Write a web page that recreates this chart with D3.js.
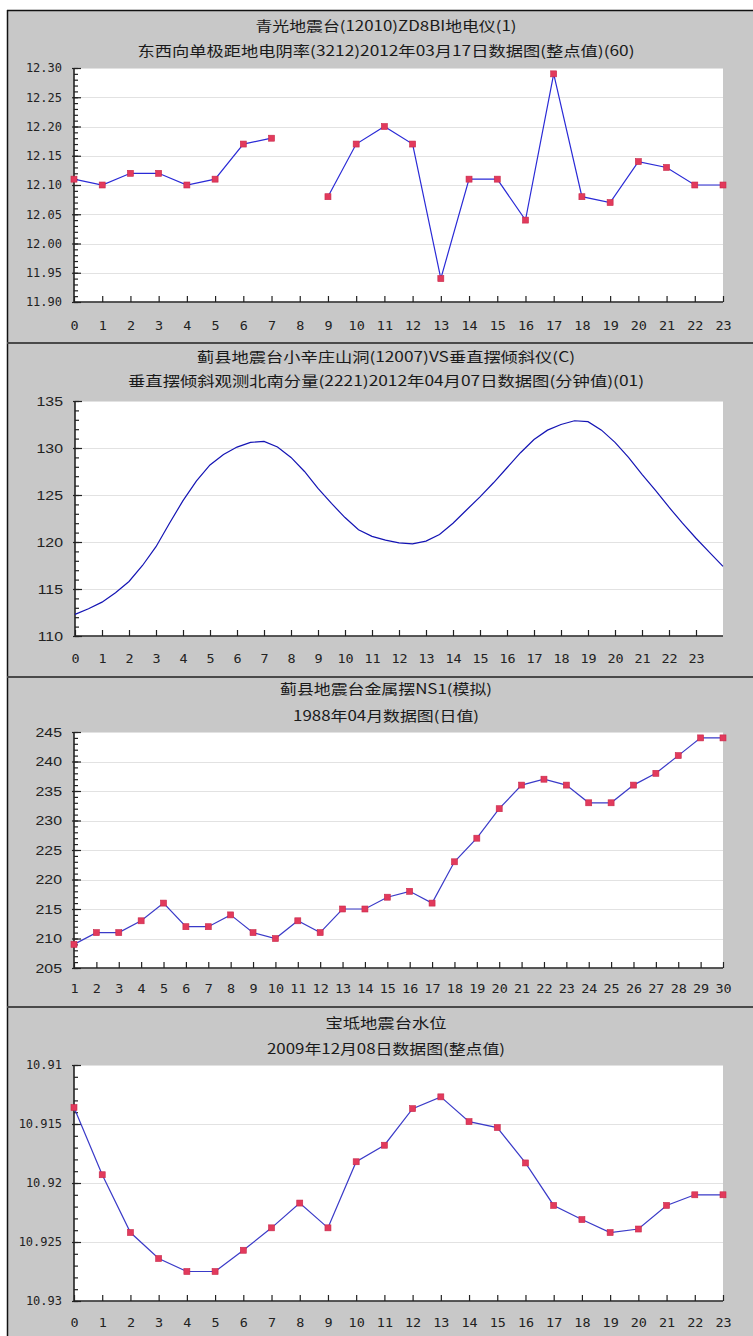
<!DOCTYPE html>
<html><head><meta charset="utf-8">
<script src="https://cdn.jsdelivr.net/npm/d3@7"></script>
<style>
body{margin:0;background:#fff;}
svg{display:block;}
</style></head><body>
<svg id="c" width="753" height="1336"></svg>
<script>
// ---------- DATA ----------
const p1Titles = ["青光地震台(12010)ZD8BI地电仪(1)", "东西向单极距地电阴率(3212)2012年03月17日数据图(整点值)(60)"];
const p1Hours = [0,1,2,3,4,5,6,7,8,9,10,11,12,13,14,15,16,17,18,19,20,21,22,23];
const p1Values = [12.11,12.10,12.12,12.12,12.10,12.11,12.17,12.18,null,12.08,12.17,12.20,12.17,11.94,12.11,12.11,12.04,12.29,12.08,12.07,12.14,12.13,12.10,12.10];
const p1YTicks = [11.90,11.95,12.00,12.05,12.10,12.15,12.20,12.25,12.30];
const p1XTicks = [0,1,2,3,4,5,6,7,8,9,10,11,12,13,14,15,16,17,18,19,20,21,22,23];

const p2Titles = ["蓟县地震台小辛庄山洞(12007)VS垂直摆倾斜仪(C)", "垂直摆倾斜观测北南分量(2221)2012年04月07日数据图(分钟值)(01)"];
const p2Hours = [0,0.5,1,1.5,2,2.5,3,3.5,4,4.5,5,5.5,6,6.5,7,7.5,8,8.5,9,9.5,10,10.5,11,11.5,12,12.5,13,13.5,14,14.5,15,15.5,16,16.5,17,17.5,18,18.5,19,19.5,20,20.5,21,21.5,22,22.5,23,23.5,24];
const p2Values = [112.3,112.9,113.6,114.6,115.8,117.5,119.5,122.0,124.4,126.5,128.2,129.3,130.1,130.6,130.7,130.1,129.0,127.5,125.7,124.1,122.6,121.3,120.6,120.2,119.9,119.8,120.1,120.8,122.0,123.4,124.8,126.3,127.9,129.5,130.9,131.9,132.5,132.9,132.8,131.9,130.6,129.0,127.2,125.5,123.7,122.0,120.4,118.9,117.4];
const p2YTicks = [110,115,120,125,130,135];
const p2XTicks = [0,1,2,3,4,5,6,7,8,9,10,11,12,13,14,15,16,17,18,19,20,21,22,23];

const p3Titles = ["蓟县地震台金属摆NS1(模拟)", "1988年04月数据图(日值)"];
const p3Days = [1,2,3,4,5,6,7,8,9,10,11,12,13,14,15,16,17,18,19,20,21,22,23,24,25,26,27,28,29,30];
const p3Values = [209,211,211,213,216,212,212,214,211,210,213,211,215,215,217,218,216,223,227,232,236,237,236,233,233,236,238,241,244,244];
const p3YTicks = [205,210,215,220,225,230,235,240,245];
const p3XTicks = [1,2,3,4,5,6,7,8,9,10,11,12,13,14,15,16,17,18,19,20,21,22,23,24,25,26,27,28,29,30];

const p4Titles = ["宝坻地震台水位", "2009年12月08日数据图(整点值)"];
const p4Hours = [0,1,2,3,4,5,6,7,8,9,10,11,12,13,14,15,16,17,18,19,20,21,22,23];
const p4Values = [10.9136,10.9193,10.9242,10.9264,10.9275,10.9275,10.9257,10.9238,10.9217,10.9238,10.9182,10.9168,10.9137,10.9127,10.9148,10.9153,10.9183,10.9219,10.9231,10.9242,10.9239,10.9219,10.9210,10.9210];
const p4YTicks = [10.91,10.915,10.92,10.925,10.93];
const p4YLabels = ["10.91","10.915","10.92","10.925","10.93"];
const p4XTicks = [0,1,2,3,4,5,6,7,8,9,10,11,12,13,14,15,16,17,18,19,20,21,22,23];

// ---------- LAYOUT ----------
const svg = d3.select("#c");
const GRAY = "#c8c8c8";
svg.append("rect").attr("x",7).attr("y",10).attr("width",760).attr("height",1340).attr("fill",GRAY);
svg.append("line").attr("x1",7).attr("x2",753).attr("y1",10.5).attr("y2",10.5).attr("stroke","#111").attr("stroke-width",1.5);
svg.append("line").attr("x1",7.5).attr("x2",7.5).attr("y1",10).attr("y2",1336).attr("stroke","#111").attr("stroke-width",1.5);
[343,677,1007].forEach(y=>{
  svg.append("line").attr("x1",7).attr("x2",753).attr("y1",y).attr("y2",y).attr("stroke","#4a4a4a").attr("stroke-width",2.2);
});

const monoFont = "'DejaVu Sans Mono', monospace";
const sansFont = "'Liberation Sans', Arial, sans-serif";
const cjkFont = "'Noto Sans CJK SC', sans-serif";

const panels = [
  {titles:p1Titles, tw:[261,497], ty:[30.5,55.5], x:p1Hours, y:p1Values, xDomain:[0,23], yDomain:[11.90,12.30],
   yTicks:p1YTicks, yFmt:d3.format(".2f"), yFont:"mono", minorN:40, xTicks:p1XTicks, left:74, right:723, top:68, bottom:302, xPad:19,
   line:"#2a2ad6", markers:true},
  {titles:p2Titles, tw:[378,516], ty:[361.5,385.5], x:p2Hours, y:p2Values, xDomain:[0,24], yDomain:[110,135],
   yTicks:p2YTicks, yFmt:d3.format("d"), yFont:"sans", minorN:25, xTicks:p2XTicks, left:75, right:723, top:401, bottom:636, xPad:18,
   line:"#1414b4", markers:false},
  {titles:p3Titles, tw:[212,186], ty:[693.5,720.5], x:p3Days, y:p3Values, xDomain:[1,30], yDomain:[205,245],
   yTicks:p3YTicks, yFmt:d3.format("d"), yFont:"sans", minorN:40, xTicks:p3XTicks, left:74, right:723, top:732, bottom:968, xPad:16,
   line:"#3a3ac8", markers:true},
  {titles:p4Titles, tw:[121,238], ty:[1027.5,1053.5], x:p4Hours, y:p4Values, xDomain:[0,23], yDomain:[10.93,10.91],
   yTicks:p4YTicks, yFmt:(d,i)=>p4YLabels[p4YTicks.indexOf(d)], yFont:"mono", minorN:20, xTicks:p4XTicks, left:74, right:723, top:1065, bottom:1301, xPad:17,
   line:"#3a3ac8", markers:true},
];

panels.forEach(p=>{
  const g = svg.append("g");
  // titles
  p.titles.forEach((t,i)=>{
    g.append("text").attr("x",386).attr("y",p.ty[i]).attr("text-anchor","middle")
      .attr("font-family",cjkFont).attr("font-size",14).attr("fill","#1a1a1a")
      .attr("textLength",p.tw[i]).attr("lengthAdjust","spacingAndGlyphs").text(t);
  });
  const xs = d3.scaleLinear().domain(p.xDomain).range([p.left,p.right]);
  const ys = d3.scaleLinear().domain(p.yDomain).range([p.bottom,p.top]);
  // plot bg
  g.append("rect").attr("x",p.left).attr("y",p.top).attr("width",p.right-p.left).attr("height",p.bottom-p.top).attr("fill","#fff");
  // grid
  g.append("g").selectAll("line").data(p.yTicks).join("line")
    .attr("x1",p.left).attr("x2",p.right).attr("y1",d=>Math.round(ys(d))+0.5).attr("y2",d=>Math.round(ys(d))+0.5)
    .attr("stroke","#e2e2e2").attr("stroke-width",1.2);
  // minor y ticks
  const yMinor = d3.axisLeft(ys).ticks(p.minorN).tickSize(-4).tickFormat("");
  g.append("g").attr("transform",`translate(${p.left},0)`).call(yMinor)
    .call(s=>s.select(".domain").remove())
    .call(s=>s.selectAll("line").attr("stroke","#222").attr("stroke-width",1.2));
  // major y ticks + labels
  const yMajor = d3.axisLeft(ys).tickValues(p.yTicks).tickSize(-7).tickPadding(12).tickFormat(p.yFmt);
  const ya = g.append("g").attr("transform",`translate(${p.left},0)`).call(yMajor);
  ya.select(".domain").remove();
  ya.selectAll("line").attr("stroke","#222").attr("stroke-width",1.2).attr("x1",-2);
  if(p.yFont==="mono"){
    ya.selectAll("text").attr("font-family",monoFont).attr("font-size",12).attr("fill","#222");
  } else {
    ya.selectAll("text").attr("font-family",sansFont).attr("font-size",13).attr("fill","#222")
      .attr("x",-12/1.22).attr("transform","scale(1.22,1)");
  }
  // x axis
  const xa = d3.axisBottom(xs).tickValues(p.xTicks).tickSizeInner(-6).tickSizeOuter(0).tickPadding(p.xPad).tickFormat(d3.format("d"));
  const xg = g.append("g").attr("transform",`translate(0,${p.bottom})`).call(xa);
  xg.select(".domain").remove();
  xg.selectAll("line").attr("stroke","#222").attr("stroke-width",1.2);
  xg.selectAll("text").attr("font-family",monoFont).attr("font-size",12).attr("fill","#222")
    .attr("transform","scale(1.12,1)");
  // axis lines
  g.append("line").attr("x1",p.left).attr("x2",p.right).attr("y1",p.bottom).attr("y2",p.bottom).attr("stroke","#222").attr("stroke-width",1.6);
  g.append("line").attr("x1",p.left).attr("x2",p.left).attr("y1",p.top).attr("y2",p.bottom).attr("stroke","#222").attr("stroke-width",1.6);
  // data line
  const pts = p.x.map((d,i)=>({x:d,y:p.y[i]}));
  const line = d3.line().defined(d=>d.y!==null).x(d=>xs(d.x)).y(d=>ys(d.y));
  g.append("path").datum(pts).attr("d",line).attr("fill","none").attr("stroke",p.line).attr("stroke-width",1.2);
  if(p.markers){
    g.append("g").selectAll("rect").data(pts.filter(d=>d.y!==null)).join("rect")
      .attr("x",d=>xs(d.x)-3).attr("y",d=>ys(d.y)-3).attr("width",6).attr("height",6)
      .attr("fill","#e23a5c").attr("stroke","#c8284a").attr("stroke-width",0.6);
  }
});
</script>
</body></html>
